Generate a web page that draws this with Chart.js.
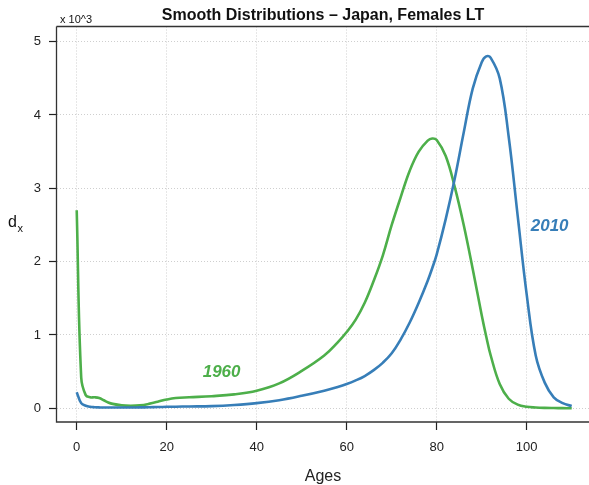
<!DOCTYPE html>
<html>
<head>
<meta charset="utf-8">
<script src="https://cdn.jsdelivr.net/npm/chart.js@4/dist/chart.umd.min.js"></script>
<style>
  body { margin: 0; background: #fff; }
  #wrap { width: 589px; height: 485px; }
</style>
</head>
<body>
<div id="wrap"><canvas id="dxChart" width="589" height="485"></canvas></div>
<script>
// ages and smoothed d(x) values (x 10^3), Japanese females
var ages = [0, 1, 2, 3, 4, 5, 6, 7, 8, 10, 12, 14, 16, 18, 20, 22, 25, 30, 35, 40,
  45, 50, 55, 58, 60, 62, 64, 66, 68, 70, 72, 74, 76, 78, 79, 80, 82, 84, 86, 88,
  90, 91, 92, 94, 96, 98, 100, 102, 104, 106, 108, 110];

var dx1960 = [2.70, 0.42, 0.18, 0.15, 0.15, 0.14, 0.11, 0.08, 0.06, 0.04, 0.035, 0.04, 0.06, 0.09, 0.12, 0.14, 0.15, 0.165, 0.19, 0.24,
  0.34, 0.51, 0.72, 0.90, 1.04, 1.21, 1.44, 1.74, 2.08, 2.50, 2.88, 3.24, 3.50, 3.65, 3.68, 3.66, 3.44, 3.02, 2.50, 1.90,
  1.27, 0.98, 0.72, 0.33, 0.13, 0.05, 0.02, 0.01, 0.005, 0.003, 0.002, 0.001];

var dx2010 = [0.22, 0.07, 0.035, 0.02, 0.015, 0.012, 0.01, 0.01, 0.01, 0.01, 0.01, 0.012, 0.014, 0.017, 0.02, 0.022, 0.025, 0.03, 0.045, 0.07,
  0.11, 0.17, 0.24, 0.29, 0.33, 0.38, 0.44, 0.52, 0.62, 0.75, 0.94, 1.17, 1.44, 1.74, 1.91, 2.10, 2.58, 3.13, 3.76, 4.36,
  4.72, 4.80, 4.78, 4.50, 3.70, 2.62, 1.55, 0.72, 0.35, 0.15, 0.07, 0.03];

var xTicks = [0, 20, 40, 60, 80, 100];
var yTicks = [0, 1, 2, 3, 4, 5];

var GREEN = "#4DAF4A";
var BLUE = "#377EB8";
var FONT = "'Liberation Sans', Arial, Helvetica, sans-serif";

function toPoints(vals) {
  var pts = [];
  for (var i = 0; i < ages.length; i++) {
    pts.push({ x: ages[i], y: vals[i] });
  }
  return pts;
}

// title, box lines and in-plot labels
var decorations = {
  id: "decorations",
  afterDraw: function (chart) {
    var ctx = chart.ctx;
    var a = chart.chartArea;
    var xs = chart.scales.x;
    var ys = chart.scales.y;
    ctx.save();

    ctx.strokeStyle = "#333";
    ctx.lineWidth = 1.3;
    ctx.beginPath();
    ctx.moveTo(a.left - 0.5, a.top);
    ctx.lineTo(a.right, a.top);
    ctx.moveTo(a.left - 0.5, a.top);
    ctx.lineTo(a.left - 0.5, a.bottom);
    ctx.lineTo(a.right, a.bottom);
    ctx.stroke();

    ctx.fillStyle = "#111";
    ctx.textAlign = "center";
    ctx.textBaseline = "alphabetic";
    ctx.font = "bold 16px " + FONT;
    ctx.fillText("Smooth Distributions \u2013 Japan, Females LT", (a.left + a.right) / 2, 20);

    ctx.textAlign = "left";
    ctx.font = "11px " + FONT;
    ctx.fillText("x 10^3", a.left + 3, 23);

    ctx.font = "16px " + FONT;
    ctx.fillText("d", 8, 227);
    ctx.font = "11px " + FONT;
    ctx.fillText("x", 17.5, 232);

    ctx.textAlign = "center";
    ctx.font = "italic bold 17px " + FONT;
    ctx.fillStyle = GREEN;
    ctx.fillText("1960", xs.getPixelForValue(32.2), ys.getPixelForValue(0.426));
    ctx.fillStyle = BLUE;
    ctx.fillText("2010", xs.getPixelForValue(105.1), ys.getPixelForValue(2.423));

    ctx.restore();
  }
};

var ctx = document.getElementById("dxChart");

var chart = new Chart(ctx, {
  type: "line",
  data: {
    datasets: [
      {
        label: "2010",
        data: toPoints(dx2010),
        borderColor: BLUE,
        borderWidth: 2.6,
        pointRadius: 0,
        fill: false,
        tension: 0.4
      },
      {
        label: "1960",
        data: toPoints(dx1960),
        borderColor: GREEN,
        borderWidth: 2.6,
        pointRadius: 0,
        fill: false,
        tension: 0.4
      }
    ]
  },
  options: {
    responsive: false,
    animation: false,
    devicePixelRatio: 1,
    layout: { padding: { top: 26.5, right: 0, left: 0, bottom: 0 } },
    plugins: {
      legend: { display: false },
      tooltip: { enabled: false }
    },
    scales: {
      x: {
        type: "linear",
        min: -4.38,
        max: 113.84,
        afterBuildTicks: function (s) {
          s.ticks = xTicks.map(function (v) { return { value: v }; });
        },
        afterFit: function (s) { s.height = 63; },
        grid: {
          color: "#cfcfcf",
          lineWidth: 1,
          drawTicks: true,
          tickLength: 8,
          tickColor: "#222",
          tickWidth: 1.2
        },
        border: { display: false, dash: [1, 2] },
        ticks: {
          padding: 10,
          color: "#222",
          font: { family: FONT, size: 13 }
        },
        title: {
          display: true,
          text: "Ages",
          color: "#222",
          font: { family: FONT, size: 16 },
          padding: { top: 0, bottom: -1.5 }
        }
      },
      y: {
        type: "linear",
        min: -0.187,
        max: 5.207,
        afterBuildTicks: function (s) {
          s.ticks = yTicks.map(function (v) { return { value: v }; });
        },
        afterFit: function (s) { s.width = 57; },
        grid: {
          color: "#cfcfcf",
          lineWidth: 1,
          drawTicks: true,
          tickLength: 8,
          tickColor: "#222",
          tickWidth: 1.2
        },
        border: { display: false, dash: [1, 2] },
        ticks: {
          padding: 8,
          color: "#222",
          font: { family: FONT, size: 13 }
        }
      }
    }
  },
  plugins: [decorations]
});
</script>
</body>
</html>
